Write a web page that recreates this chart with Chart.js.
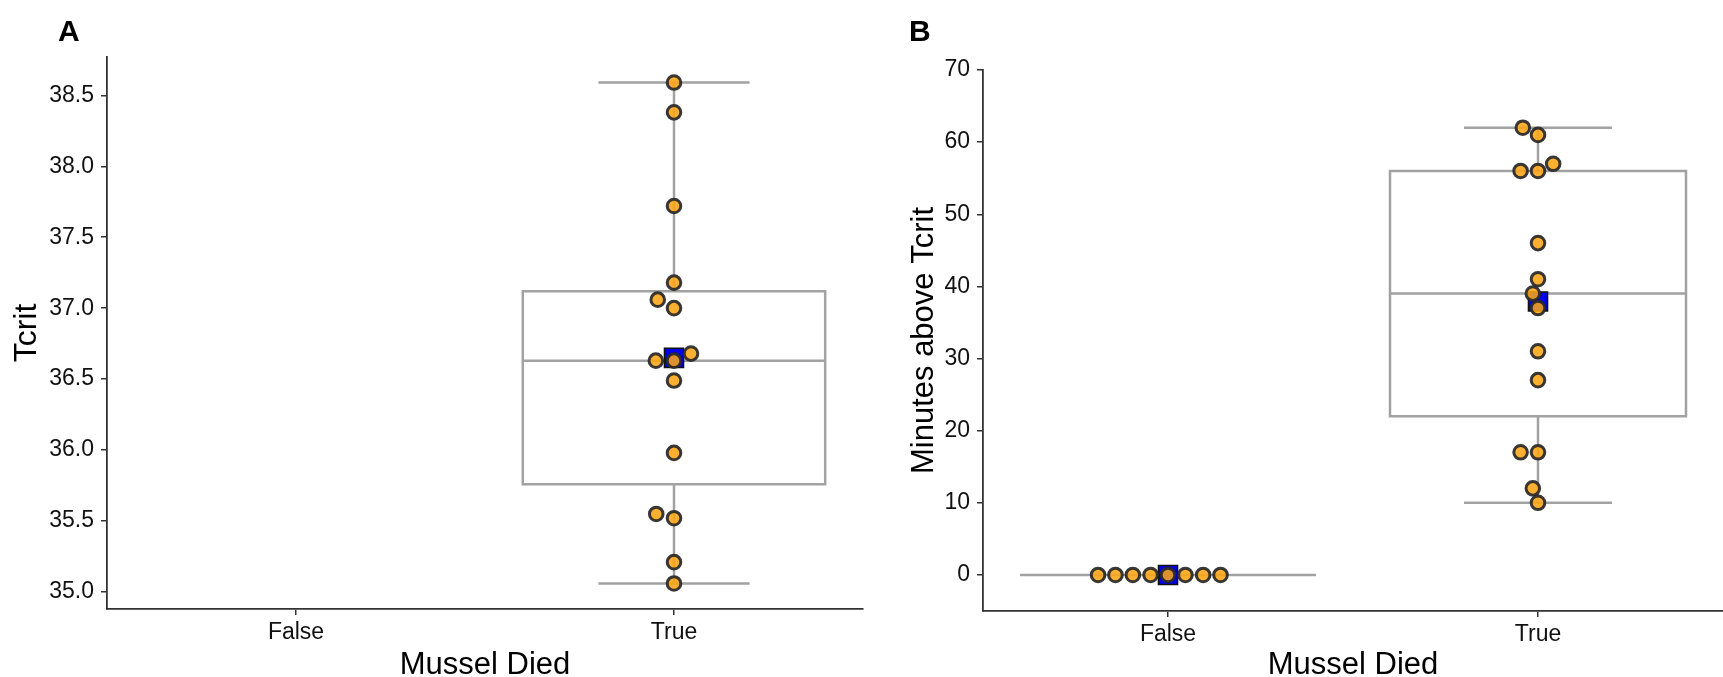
<!DOCTYPE html>
<html>
<head>
<meta charset="utf-8">
<script src="https://cdn.jsdelivr.net/npm/chart.js@4.4.1/dist/chart.umd.min.js"></script>
<style>
  html, body { margin: 0; padding: 0; background: #fff; }
  #wrap { position: relative; width: 1723px; height: 677px; overflow: hidden; }
  canvas { position: absolute; top: 0; }
  .tag { position: absolute; top: 14px; line-height: 30px; font: bold 30px "Liberation Sans", Arial, sans-serif; color: #000; }
</style>
</head>
<body>
<div id="wrap">
  <canvas id="chartA" width="870" height="677" style="left:0"></canvas>
  <canvas id="chartB" width="853" height="677" style="left:870px"></canvas>
  <div class="tag" style="left:58px">A</div>
  <div class="tag" style="left:909px">B</div>
</div>
<script>
const categories = ["False", "True"];
const tcritTicks = [35.0, 35.5, 36.0, 36.5, 37.0, 37.5, 38.0, 38.5];
const minuteTicks = [0, 10, 20, 30, 40, 50, 60, 70];

// panel A - only mussels that died have a Tcrit
const tcritTrue = [38.59, 38.38, 37.72, 37.18, 37.06, 37.00, 36.68, 36.63, 36.63, 36.49, 35.98, 35.55, 35.52, 35.21, 35.06];
const tcritJitter = [0, 0, 0, 0, -0.043, 0, 0.045, -0.048, 0, 0, 0, -0.047, 0, 0, 0];
const tcritMean = [null, 36.65];
// low whisker, q1, median, q3, high whisker
const tcritBoxTrue = [35.06, 35.76, 36.63, 37.12, 38.59];

// panel B
const minutesFalse = [0, 0, 0, 0, 0, 0, 0, 0];
const minutesFalseJitter = [-0.189, -0.142, -0.095, -0.047, 0, 0.047, 0.095, 0.142];
const minutesTrue = [62, 61, 57, 56, 56, 46, 41, 39, 37, 31, 27, 17, 17, 12, 10];
const minutesTrueJitter = [-0.041, 0, 0.041, -0.047, 0, 0, 0, -0.014, 0, 0, 0, -0.047, 0, -0.014, 0];
const minutesMean = [0, 37.9];
const minutesBoxFalse = [0, 0, 0, 0, 0];
const minutesBoxTrue = [10, 22, 39, 56, 62];

const FONT = '"Liberation Sans", Arial, sans-serif';
Chart.defaults.font.family = FONT;
Chart.defaults.color = "#111";

// box + whiskers drawn under the points, using the chart's own scales
function boxPlugin(boxes) {
  return {
    id: "boxes",
    beforeDatasetsDraw(chart) {
      const { ctx, scales: { x, y } } = chart;
      ctx.save();
      ctx.strokeStyle = "#a2a2a2";
      ctx.lineWidth = 2.5;
      boxes.forEach((b, i) => {
        if (!b) return;
        const [low, q1, med, q3, high] = b.map((v) => y.getPixelForValue(v));
        const cx = x.getPixelForValue(i);
        const bx0 = x.getPixelForValue(i - 0.4), bx1 = x.getPixelForValue(i + 0.4);
        const wx0 = x.getPixelForValue(i - 0.2), wx1 = x.getPixelForValue(i + 0.2);
        ctx.beginPath();
        ctx.moveTo(cx, low); ctx.lineTo(cx, q1);
        ctx.moveTo(cx, q3); ctx.lineTo(cx, high);
        ctx.moveTo(wx0, low); ctx.lineTo(wx1, low);
        ctx.moveTo(wx0, high); ctx.lineTo(wx1, high);
        ctx.rect(bx0, q3, bx1 - bx0, q1 - q3);
        ctx.moveTo(bx0, med); ctx.lineTo(bx1, med);
        ctx.stroke();
      });
      ctx.restore();
    },
  };
}

function pts(values, jitter, cat) {
  return values.map((v, i) => ({ x: cat + jitter[i], y: v }));
}

function makeChart(id, c) {
  const axisLine = { display: true, color: "#333", width: 1.8 };
  const tickGrid = { drawOnChartArea: false, drawTicks: true, tickLength: 6, color: "#333", lineWidth: 1.5 };
  return new Chart(document.getElementById(id), {
    type: "scatter",
    data: {
      datasets: [
        {
          data: c.points,
          pointRadius: 6.8,
          pointBorderWidth: 3,
          backgroundColor: "rgba(250,165,20,0.88)",
          borderColor: "rgba(40,40,40,0.92)",
          order: 0,
          clip: false,
        },
        {
          data: c.means,
          pointStyle: "rect",
          pointRadius: 13.5,
          pointBorderWidth: 1.5,
          backgroundColor: "#0000ee",
          borderColor: "#111",
          order: 1,
          clip: false,
        },
      ],
    },
    options: {
      responsive: false,
      animation: false,
      layout: { padding: c.padding, autoPadding: false },
      plugins: { legend: { display: false }, tooltip: { enabled: false } },
      scales: {
        x: {
          type: "linear",
          min: -0.5,
          max: 1.5,
          afterBuildTicks: (s) => { s.ticks = categories.map((_, i) => ({ value: i })); },
          afterFit: (s) => { s.height = c.xHeight; },
          ticks: { callback: (v) => categories[v], font: { size: 23 }, padding: 4, maxRotation: 0, color: "#111" },
          grid: tickGrid,
          border: axisLine,
          title: { display: true, text: "Mussel Died", color: "#000", font: { size: 31, lineHeight: 0.75 }, padding: { top: 0, bottom: 0 } },
        },
        y: {
          min: c.yMin,
          max: c.yMax,
          afterBuildTicks: (s) => { s.ticks = c.ticks.map((v) => ({ value: v })); },
          afterFit: (s) => { s.width = c.yWidth; },
          ticks: { callback: c.fmt, font: { size: 23 }, padding: 7, color: "#111" },
          grid: tickGrid,
          border: axisLine,
          title: { display: true, text: c.yTitle, color: "#000", font: { size: c.yTitleSize, lineHeight: 1 }, padding: { top: c.yTitlePad, bottom: 0 } },
        },
      },
    },
    plugins: [boxPlugin(c.boxes)],
  });
}

makeChart("chartA", {
  points: pts(tcritTrue, tcritJitter, 1),
  means: tcritMean.map((v, i) => (v === null ? null : { x: i, y: v })).filter(Boolean),
  boxes: [null, tcritBoxTrue],
  ticks: tcritTicks,
  fmt: (v) => v.toFixed(1),
  yMin: 34.88,
  yMax: 38.77,
  yTitle: "Tcrit",
  yTitleSize: 32,
  yTitlePad: 11,
  yWidth: 107,
  xHeight: 68,
  padding: { left: 0, right: 7, top: 57, bottom: 0 },
});

makeChart("chartB", {
  points: pts(minutesFalse, minutesFalseJitter, 0).concat(pts(minutesTrue, minutesTrueJitter, 1)),
  means: minutesMean.map((v, i) => ({ x: i, y: v })),
  boxes: [minutesBoxFalse, minutesBoxTrue],
  ticks: minuteTicks,
  fmt: (v) => String(v),
  yMin: -5,
  yMax: 70,
  yTitle: "Minutes above Tcrit",
  yTitleSize: 31,
  yTitlePad: 39,
  yWidth: 113,
  xHeight: 66,
  padding: { left: 0, right: 0, top: 70, bottom: 0 },
});
</script>
</body>
</html>
